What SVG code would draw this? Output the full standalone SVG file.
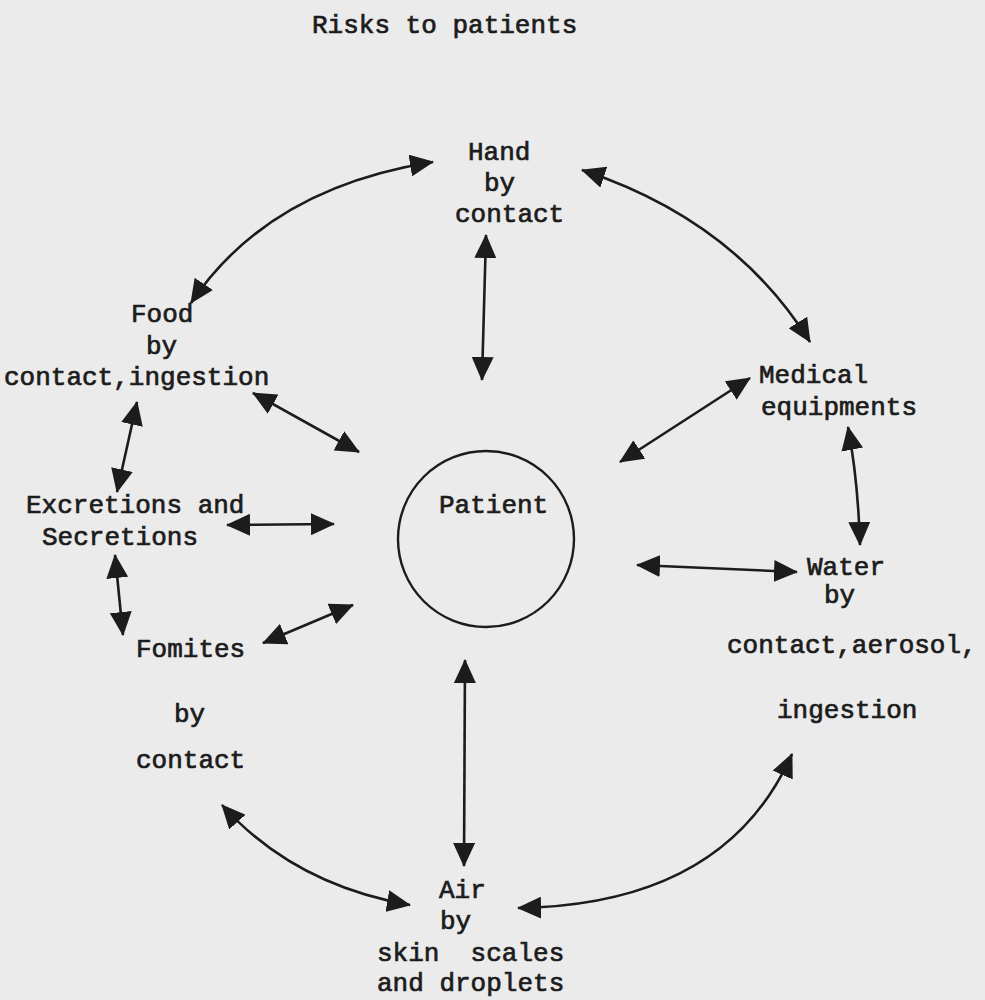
<svg xmlns="http://www.w3.org/2000/svg" width="985" height="1000" viewBox="0 0 985 1000">
<style>
text{font-family:"Liberation Mono","Courier New",monospace;font-size:26px;fill:#1c1c1c;stroke:#1c1c1c;stroke-width:0.7;white-space:pre}
.c{fill:none;stroke:#1c1c1c;stroke-width:2.6}
</style>
<defs>
<marker id="ah" markerUnits="userSpaceOnUse" markerWidth="24" markerHeight="22" refX="23" refY="11" orient="auto-start-reverse" viewBox="0 0 24 22">
<path d="M0,0 L24,11 L0,22 z" fill="#1c1c1c"/>
</marker>
</defs>
<rect width="985" height="1000" fill="#ebebeb"/>
<text id="title" x="312" y="33">Risks to patients</text>
<g id="patient">
<circle cx="486" cy="539" r="88" fill="none" stroke="#1c1c1c" stroke-width="2.4"/>
<text x="439" y="513">Patient</text>
</g>
<g id="hand">
<text x="468" y="160">Hand</text>
<text x="484" y="191">by</text>
<text x="455" y="222">contact</text>
</g>
<g id="food">
<text x="131" y="322">Food</text>
<text x="146" y="354">by</text>
<text x="4" y="385">contact,ingestion</text>
</g>
<g id="medical">
<text x="759" y="383">Medical</text>
<text x="761" y="415">equipments</text>
</g>
<g id="excretions">
<text x="26" y="513">Excretions and</text>
<text x="42" y="545">Secretions</text>
</g>
<g id="fomites">
<text x="136" y="657">Fomites</text>
<text x="174" y="722">by</text>
<text x="136" y="768">contact</text>
</g>
<g id="water">
<text x="807" y="575">Water</text>
<text x="824" y="603">by</text>
<text x="727" y="653">contact,aerosol,</text>
<text x="777" y="718">ingestion</text>
</g>
<g id="air">
<text x="439" y="898">Air</text>
<text x="440" y="929">by</text>
<text x="377" y="961">skin  scales</text>
<text x="377" y="991">and droplets</text>
</g>
<g id="connectors">
<path class="c" marker-start="url(#ah)" marker-end="url(#ah)" d="M433,162 Q268,188 191,303"/>
<path class="c" marker-start="url(#ah)" marker-end="url(#ah)" d="M486,235 L482,380"/>
<path class="c" marker-start="url(#ah)" marker-end="url(#ah)" d="M582,170 Q734,220 810,342"/>
<path class="c" marker-start="url(#ah)" marker-end="url(#ah)" d="M750,378 L620,462"/>
<path class="c" marker-start="url(#ah)" marker-end="url(#ah)" d="M848,427 Q858,480 860,545"/>
<path class="c" marker-start="url(#ah)" marker-end="url(#ah)" d="M637,565 L797,572"/>
<path class="c" marker-start="url(#ah)" marker-end="url(#ah)" d="M792,754 Q725,905 518,908"/>
<path class="c" marker-start="url(#ah)" marker-end="url(#ah)" d="M465,660 L464,866"/>
<path class="c" marker-start="url(#ah)" marker-end="url(#ah)" d="M222,805 Q294,885 410,905"/>
<path class="c" marker-start="url(#ah)" marker-end="url(#ah)" d="M263,643 L353,605"/>
<path class="c" marker-start="url(#ah)" marker-end="url(#ah)" d="M227,525 L334,524"/>
<path class="c" marker-start="url(#ah)" marker-end="url(#ah)" d="M115,555 L123,635"/>
<path class="c" marker-start="url(#ah)" marker-end="url(#ah)" d="M137,402 L117,492"/>
<path class="c" marker-start="url(#ah)" marker-end="url(#ah)" d="M253,393 L359,452"/>
</g>
</svg>
